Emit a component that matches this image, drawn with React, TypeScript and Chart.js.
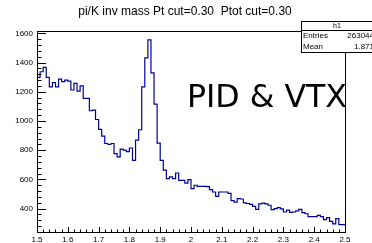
import React, { useEffect, useRef } from "react";
import { Chart, registerables } from "chart.js";
Chart.register(...registerables);

const TITLE = "pi/K inv mass Pt cut=0.30  Ptot cut=0.30";
const OVERLAY_TEXT = "PID & VTX";
const X_MIN = 1.5;
const X_MAX = 2.5;
const BIN_WIDTH = 0.01;
const Y_MIN = 240;
const Y_MAX = 1616;

// 100 bin contents, 1.50 .. 2.50 in steps of 0.01
const binCounts = [
  1299, 1337, 1367, 1299, 1234, 1262, 1234, 1287, 1269, 1280,
  1273, 1212, 1257, 1205, 1241, 1155, 1155, 1070, 1075, 1010,
  942, 896, 846, 839, 846, 777, 754, 808, 800, 790,
  815, 731, 869, 940, 1234, 1432, 1555, 1330, 1115, 848,
  731, 663, 606, 617, 606, 644, 594, 594, 575, 599,
  537, 560, 553, 553, 553, 550, 530, 514, 484, 514,
  514, 514, 505, 455, 445, 468, 466, 440, 435, 429,
  416, 395, 432, 438, 432, 423, 393, 400, 407, 398,
  377, 390, 375, 377, 385, 395, 372, 365, 345, 345,
  345, 354, 345, 325, 338, 313, 295, 332, 290, 290,
];

const xTickValues = [1.5, 1.6, 1.7, 1.8, 1.9, 2.0, 2.1, 2.2, 2.3, 2.4, 2.5];
const xTickLabels = ["1.5", "1.6", "1.7", "1.8", "1.9", "2", "2.1", "2.2", "2.3", "2.4", "2.5"];
const yTickValues = [400, 600, 800, 1000, 1200, 1400, 1600];
const statsName = "h1";
const statsLabels = ["Entries", "Mean"];
const statsValues = ["263044", "1.871"];

const FONT = "'Liberation Sans', Arial, sans-serif";

const rootPlugin = {
  id: "rootDecor",
  afterDraw(chart: any) {
    const ctx = chart.ctx as CanvasRenderingContext2D;
    const xs = chart.scales.x;
    const ys = chart.scales.y;
    const { left, right, top, bottom } = chart.chartArea;
    ctx.save();
    // frame
    ctx.strokeStyle = "#000";
    ctx.lineWidth = 1;
    ctx.strokeRect(Math.round(left) + 0.5, Math.round(top) + 0.5, Math.round(right - left), Math.round(bottom - top));
    // x ticks (inside)
    ctx.beginPath();
    for (let i = 0; i <= 50; i++) {
      const v = X_MIN + i * 0.02;
      const px = Math.round(xs.getPixelForValue(v)) + 0.5;
      const major = i % 5 === 0;
      const len = major ? 5 : 2.5;
      ctx.moveTo(px, bottom);
      ctx.lineTo(px, bottom - len);
    }
    // y ticks
    for (let v = 280; v < Y_MAX; v += 40) {
      const py = Math.round(ys.getPixelForValue(v)) + 0.5;
      const major = v % 200 === 0;
      const len = major ? 9 : 4.5;
      ctx.moveTo(left, py);
      ctx.lineTo(left + len, py);
    }
    ctx.stroke();

    // title
    ctx.fillStyle = "#000";
    ctx.font = `12px ${FONT}`;
    ctx.textAlign = "center";
    ctx.textBaseline = "middle";
    ctx.fillText(TITLE, 185, 12);

    // stats box
    const bx = 301.5, by = 21.5, bw = 80, bh = 31;
    ctx.fillStyle = "#fff";
    ctx.fillRect(bx, by, bw, bh);
    ctx.strokeStyle = "#000";
    ctx.strokeRect(bx, by, bw, bh);
    ctx.beginPath();
    ctx.moveTo(bx, 30.5);
    ctx.lineTo(bx + bw, 30.5);
    ctx.stroke();
    ctx.fillStyle = "#000";
    ctx.font = `7px ${FONT}`;
    ctx.textAlign = "center";
    ctx.fillText(statsName, 337, 26);
    ctx.font = `8px ${FONT}`;
    for (let i = 0; i < statsLabels.length; i++) {
      const yy = 36 + i * 11;
      ctx.textAlign = "left";
      ctx.fillText(statsLabels[i], 303, yy);
      ctx.textAlign = "right";
      ctx.fillText(statsValues[i], 374, yy);
    }

    // overlay text
    ctx.font = `32px 'DejaVu Sans', sans-serif`;
    ctx.textAlign = "left";
    ctx.textBaseline = "alphabetic";
    const w = ctx.measureText(OVERLAY_TEXT).width;
    ctx.translate(187, 107);
    ctx.scale(160 / w, 1);
    ctx.fillText(OVERLAY_TEXT, 0, 0);
    ctx.restore();
  },
};

export default function App() {
  const ref = useRef<HTMLCanvasElement | null>(null);
  useEffect(() => {
    if (!ref.current) return;
    const points = binCounts.map((v, i) => ({ x: X_MIN + i * BIN_WIDTH, y: v }));
    points.push({ x: X_MAX, y: binCounts[binCounts.length - 1] });
    const chart = new Chart(ref.current, {
      type: "line",
      data: {
        datasets: [
          {
            data: points,
            stepped: true,
            borderColor: "#000099",
            borderWidth: 1.2,
            pointRadius: 0,
            fill: false,
          },
        ],
      },
      options: {
        animation: false,
        responsive: false,
        layout: { padding: { left: 0, right: 27, top: 31, bottom: 0 } },
        plugins: { legend: { display: false }, tooltip: { enabled: false }, title: { display: false } },
        scales: {
          x: {
            type: "linear",
            min: X_MIN,
            max: X_MAX,
            grid: { display: false, drawTicks: false },
            border: { display: false },
            afterBuildTicks: (s: any) => {
              s.ticks = xTickValues.map((v) => ({ value: v }));
            },
            afterFit: (s: any) => {
              s.height = 11;
            },
            ticks: {
              padding: 3,
              maxRotation: 0,
              autoSkip: false,
              color: "#000",
              font: { family: FONT, size: 8 },
              callback: (_v: any, i: number) => xTickLabels[i],
            },
          },
          y: {
            type: "linear",
            min: Y_MIN,
            max: Y_MAX,
            grid: { display: false, drawTicks: false },
            border: { display: false },
            afterBuildTicks: (s: any) => {
              s.ticks = yTickValues.map((v) => ({ value: v }));
            },
            afterFit: (s: any) => {
              s.width = 37;
            },
            ticks: {
              padding: 4,
              autoSkip: false,
              color: "#000",
              font: { family: FONT, size: 8 },
              callback: (v: any) => String(v),
            },
          },
        },
      },
      plugins: [rootPlugin],
    });
    return () => chart.destroy();
  }, []);
  return (
    <div style={{ position: "fixed", left: 0, top: 0, width: 372, height: 243, background: "#fff" }}>
      <canvas ref={ref} width={372} height={243} />
    </div>
  );
}
